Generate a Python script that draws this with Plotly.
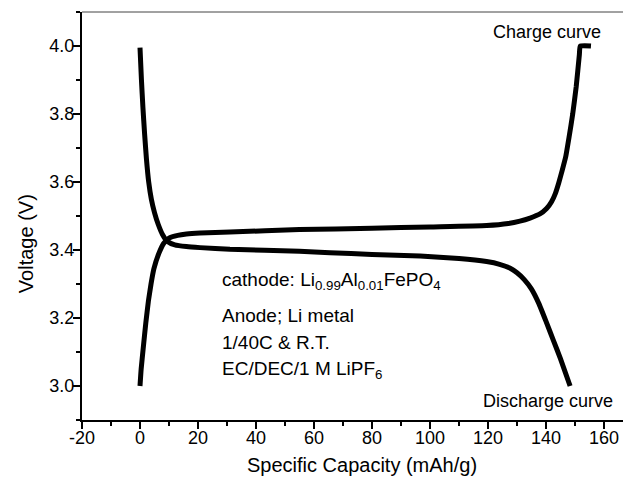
import plotly.graph_objects as go

# Charge curve (Specific capacity mAh/g, Voltage V)
charge_x = [0.0, 0.4, 1.1, 2.0, 2.9, 3.8, 4.8, 6.5, 8.2, 10.0, 13.0, 16.0, 20.7, 31.0, 55.0, 80.0,
            100.0, 119.5, 127.0, 131.0, 134.5, 137.9, 140.2, 141.9, 143.2, 144.4, 145.6, 146.8,
            148.0, 149.2, 150.4, 151.5, 151.8, 155.5]
charge_y = [3.00, 3.05, 3.11, 3.185, 3.25, 3.30, 3.345, 3.39, 3.42, 3.435, 3.443, 3.447, 3.450,
            3.453, 3.460, 3.464, 3.468, 3.472, 3.478, 3.485, 3.494, 3.506, 3.522, 3.542, 3.566,
            3.598, 3.635, 3.675, 3.735, 3.80, 3.88, 3.975, 4.0, 4.0]

# Discharge curve
discharge_x = [0.0, 0.5, 1.0, 1.6, 2.2, 3.0, 3.9, 5.0, 6.3, 7.8, 9.5, 12.0, 16.0, 20.7, 31.0, 55.0,
               65.5, 80.0, 96.6, 110.0, 119.5, 124.0, 127.5, 130.0, 132.5, 135.0, 137.5,
               140.0, 142.5, 145.0, 148.3]
discharge_y = [3.995, 3.90, 3.82, 3.74, 3.67, 3.60, 3.55, 3.51, 3.475, 3.445, 3.425, 3.415, 3.41,
               3.407, 3.402, 3.396, 3.392, 3.387, 3.382, 3.375, 3.366, 3.358, 3.347, 3.333,
               3.313, 3.285, 3.243, 3.19, 3.135, 3.08, 3.0]

x_ticks = [-20, 0, 20, 40, 60, 80, 100, 120, 140, 160]
x_tick_text = ["-20", "0", "20", "40", "60", "80", "100", "120", "140", "160"]
y_ticks = [3.0, 3.2, 3.4, 3.6, 3.8, 4.0]

FONT = "Liberation Sans, Arial, Helvetica, sans-serif"

fig = go.Figure()
fig.add_trace(go.Scatter(x=charge_x, y=charge_y, mode="lines",
                         line=dict(color="black", width=5, shape="spline", smoothing=0.4),
                         showlegend=False, hoverinfo="skip"))
fig.add_trace(go.Scatter(x=discharge_x, y=discharge_y, mode="lines",
                         line=dict(color="black", width=5, shape="spline", smoothing=0.4),
                         showlegend=False, hoverinfo="skip"))

annotations = [
    dict(x=140.5, y=4.042, text="Charge curve", xanchor="center", yanchor="middle", font=dict(size=18)),
    dict(x=140.8, y=2.957, text="Discharge curve", xanchor="center", yanchor="middle", font=dict(size=18)),
    dict(x=27.5, y=3.309, text="cathode: Li<sub>0.99</sub>Al<sub>0.01</sub>FePO<sub>4</sub>",
         xanchor="left", yanchor="middle", font=dict(size=19)),
    dict(x=27.5, y=3.206, text="Anode; Li metal", xanchor="left", yanchor="middle", font=dict(size=19)),
    dict(x=27.5, y=3.128, text="1/40C &amp; R.T.", xanchor="left", yanchor="middle", font=dict(size=19)),
    dict(x=27.5, y=3.047, text="EC/DEC/1 M LiPF<sub>6</sub>", xanchor="left", yanchor="middle", font=dict(size=19)),
]
for a in annotations:
    a.update(xref="x", yref="y", showarrow=False)
    a["font"].update(color="black", family=FONT)

# axis titles
annotations.append(dict(xref="paper", yref="paper", x=-0.102, y=0.431, text="Voltage (V)",
                        textangle=-90, showarrow=False, xanchor="center", yanchor="middle",
                        font=dict(size=20, color="black", family=FONT)))
annotations.append(dict(xref="paper", yref="paper", x=0.51, y=-0.110, text="Specific Capacity (mAh/g)",
                        showarrow=False, xanchor="center", yanchor="middle",
                        font=dict(size=20, color="black", family=FONT)))

# Browser body margin is 8px, so the figure is 8px smaller and margins 8px tighter
fig.update_layout(
    width=623, height=475,
    margin=dict(l=74, r=0, t=4, b=63),
    paper_bgcolor="white", plot_bgcolor="white",
    font=dict(family=FONT, color="black"),
    annotations=annotations,
    shapes=[dict(type="line", xref="paper", yref="paper", x0=0, x1=1, y0=1, y1=1,
                 line=dict(color="#444", width=1))],
    xaxis=dict(range=[-20, 169.3], tickvals=x_ticks, ticktext=x_tick_text, ticks="outside",
               ticklen=7, tickwidth=2, tickcolor="black", showline=True, linecolor="black",
               linewidth=2, showgrid=False, zeroline=False, tickfont=dict(size=18),
               ticklabelstandoff=-7,
               minor=dict(dtick=10, tick0=0, ticks="outside", ticklen=4, tickwidth=2, tickcolor="black")),
    yaxis=dict(range=[2.9, 4.1], tickvals=y_ticks, tickformat=".1f", ticks="outside", ticklen=7,
               tickwidth=2, tickcolor="black", showline=True, linecolor="black", linewidth=2,
               showgrid=False, zeroline=False, tickfont=dict(size=18), ticklabelstandoff=-5,
               minor=dict(dtick=0.1, tick0=2.9, ticks="outside", ticklen=4, tickwidth=2, tickcolor="black")),
)

fig.write_html("out.html")
